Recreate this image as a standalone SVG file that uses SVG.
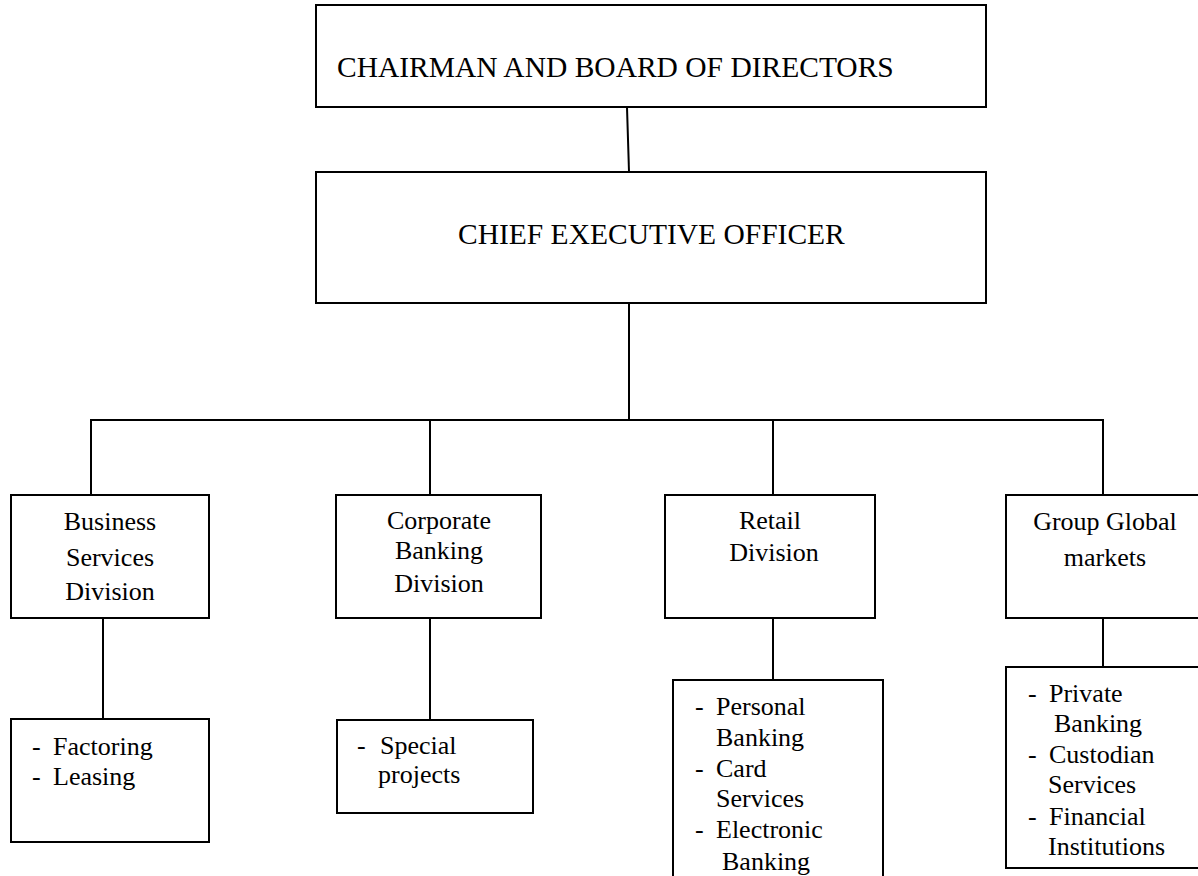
<svg xmlns="http://www.w3.org/2000/svg" width="1198" height="876" viewBox="0 0 1198 876" font-family="'Liberation Serif', 'Times New Roman', Tinos, 'DejaVu Serif', serif">
<style>
.box{fill:#fff;stroke:#000;stroke-width:2}
.ln{stroke:#000;stroke-width:2;fill:none}
.big{font-size:29.5px;fill:#000}
.t{font-size:26px;fill:#000}
.c{text-anchor:middle}
</style>
<rect width="1198" height="876" fill="#fff"/>
<g id="connectors">
<line class="ln" x1="627" y1="107" x2="629" y2="172"/>
<line class="ln" x1="629" y1="303" x2="629" y2="420"/>
<polyline class="ln" points="91,495 91,420 1103,420 1103,495"/>
<line class="ln" x1="430" y1="420" x2="430" y2="495"/>
<line class="ln" x1="773" y1="420" x2="773" y2="495"/>
<line class="ln" x1="103" y1="618" x2="103" y2="719"/>
<line class="ln" x1="430" y1="618" x2="430" y2="720"/>
<line class="ln" x1="773" y1="618" x2="773" y2="680"/>
<line class="ln" x1="1103" y1="618" x2="1103" y2="667"/>
</g>
<g id="chairman">
<rect class="box" x="316" y="5" width="670" height="102"/>
<text class="big" x="337" y="77">CHAIRMAN AND BOARD OF DIRECTORS</text>
</g>
<g id="ceo">
<rect class="box" x="316" y="172" width="670" height="131"/>
<text class="big" x="458" y="244">CHIEF EXECUTIVE OFFICER</text>
</g>
<g id="business">
<rect class="box" x="11" y="495" width="198" height="123"/>
<text class="t c" x="110" y="530">Business</text>
<text class="t c" x="110" y="566">Services</text>
<text class="t c" x="110" y="600">Division</text>
</g>
<g id="corporate">
<rect class="box" x="336" y="495" width="205" height="123"/>
<text class="t c" x="439" y="529">Corporate</text>
<text class="t c" x="439" y="559">Banking</text>
<text class="t c" x="439" y="592">Division</text>
</g>
<g id="retail">
<rect class="box" x="665" y="495" width="210" height="123"/>
<text class="t c" x="770" y="529">Retail</text>
<text class="t c" x="774" y="561">Division</text>
</g>
<g id="global">
<rect class="box" x="1006" y="495" width="200" height="123"/>
<text class="t c" x="1105" y="530">Group Global</text>
<text class="t c" x="1105" y="566">markets</text>
</g>
<g id="business-sub">
<rect class="box" x="11" y="719" width="198" height="123"/>
<text class="t"><tspan x="32" y="755">-</tspan><tspan x="53" y="755">Factoring</tspan></text>
<text class="t"><tspan x="32" y="785">-</tspan><tspan x="53" y="785">Leasing</tspan></text>
</g>
<g id="corporate-sub">
<rect class="box" x="337" y="720" width="196" height="93"/>
<text class="t"><tspan x="357" y="754">-</tspan><tspan x="380" y="754">Special</tspan></text>
<text class="t" x="378" y="783">projects</text>
</g>
<g id="retail-sub">
<rect class="box" x="673" y="680" width="210" height="215"/>
<text class="t"><tspan x="695" y="715">-</tspan><tspan x="716" y="715">Personal</tspan></text>
<text class="t" x="716" y="746">Banking</text>
<text class="t"><tspan x="695" y="777">-</tspan><tspan x="716" y="777">Card</tspan></text>
<text class="t" x="716" y="807">Services</text>
<text class="t"><tspan x="695" y="838">-</tspan><tspan x="716" y="838">Electronic</tspan></text>
<text class="t" x="722" y="870">Banking</text>
</g>
<g id="global-sub">
<rect class="box" x="1006" y="667" width="200" height="201"/>
<text class="t"><tspan x="1028" y="702">-</tspan><tspan x="1049" y="702">Private</tspan></text>
<text class="t" x="1054" y="732">Banking</text>
<text class="t"><tspan x="1028" y="763">-</tspan><tspan x="1049" y="763">Custodian</tspan></text>
<text class="t" x="1048" y="793">Services</text>
<text class="t"><tspan x="1028" y="825">-</tspan><tspan x="1049" y="825">Financial</tspan></text>
<text class="t" x="1048" y="855">Institutions</text>
</g>
</svg>
